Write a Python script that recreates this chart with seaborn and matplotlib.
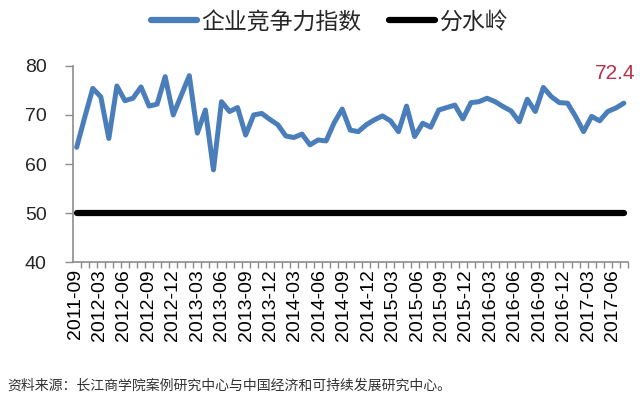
import numpy as np
import pandas as pd
import matplotlib
matplotlib.use("Agg")
import matplotlib.pyplot as plt
import seaborn as sns
from matplotlib.lines import Line2D
from matplotlib.ticker import FixedLocator

# monthly index values
index_values = [63.4, 69.5, 75.4, 73.7, 65.2, 75.9, 72.9, 73.4, 75.7, 71.8,
                72.2, 77.8, 70.0, 74.0, 78.0, 66.3, 71.0, 58.8, 72.7, 70.7,
                71.5, 65.9, 70.0, 70.3, 69.1, 68.0, 65.7, 65.4, 66.1, 63.9,
                64.9, 64.7, 68.4, 71.2, 66.9, 66.6, 68.0, 69.0, 69.8, 68.8,
                66.6, 71.8, 65.6, 68.3, 67.5, 71.0, 71.5, 72.0, 69.2, 72.5,
                72.7, 73.4, 72.7, 71.7, 70.8, 68.6, 73.2, 70.7, 75.6, 73.7,
                72.5, 72.4, 69.7, 66.6, 69.7, 68.8, 70.7, 71.4, 72.4]
threshold = 50
tick_labels = ["2011-09", "2012-03", "2012-06", "2012-09", "2012-12",
               "2013-03", "2013-06", "2013-09", "2013-12", "2014-03",
               "2014-06", "2014-09", "2014-12", "2015-03", "2015-06",
               "2015-09", "2015-12", "2016-03", "2016-06", "2016-09",
               "2016-12", "2017-03", "2017-06"]
series_name = "企业竞争力指数"
threshold_name = "分水岭"
last_label = "72.4"
source = "资料来源：长江商学院案例研究中心与中国经济和可持续发展研究中心。"

sns.set_theme(style="white")
plt.rcParams["font.family"] = ["Liberation Sans", "Noto Sans CJK SC", "DejaVu Sans"]

n = len(index_values)
df = pd.DataFrame({"idx": np.arange(n), "index": index_values,
                   "threshold": [threshold] * n})

fig = plt.figure(figsize=(6.4, 4.09), dpi=100)
ax = fig.add_axes([0.114, 0.359, 0.867, 0.48])

blue = "#4A7EBB"
sns.lineplot(data=df, x="idx", y="threshold", color="black", linewidth=4.5,
             solid_capstyle="round", ax=ax)
sns.lineplot(data=df, x="idx", y="index", color=blue, linewidth=3.6,
             solid_capstyle="round", solid_joinstyle="round", ax=ax)

ax.set_xlim(-0.46, n - 0.5)
ax.set_ylim(40, 80)
ax.set_yticks([40, 50, 60, 70, 80])
ax.set_xlabel("")
ax.set_ylabel("")

# labels spaced like the original, tick marks between every month
ax.set_xticks(np.linspace(-0.2, 66.6, len(tick_labels)))
ax.set_xticklabels(tick_labels, rotation=90, fontsize=14)
ax.xaxis.set_minor_locator(FixedLocator(np.arange(-0.5, n, 1.0)))
ax.tick_params(axis="x", which="major", length=0, pad=5, colors="black")
ax.tick_params(axis="x", which="minor", bottom=True, length=4, width=1,
               color="#8C8C8C")
ax.tick_params(axis="y", left=True, length=6, width=1, color="#8C8C8C",
               labelsize=14, pad=13)

for s in ["top", "right"]:
    ax.spines[s].set_visible(False)
for s in ["left", "bottom"]:
    ax.spines[s].set_color("#8C8C8C")
    ax.spines[s].set_linewidth(1.2)

ax.annotate(last_label, xy=(n - 1, index_values[-1]), xytext=(-6, 21),
            textcoords="offset points", ha="center", va="center",
            color="#B5324A", fontsize=15)

handles = [Line2D([], [], color=blue, linewidth=4.5, solid_capstyle="round"),
           Line2D([], [], color="black", linewidth=4.5, solid_capstyle="round")]
fig.legend(handles, [series_name, threshold_name], loc="upper center",
           bbox_to_anchor=(0.515, 1.025), ncol=2, frameon=False, fontsize=16.5,
           handlelength=2.0, handletextpad=0.2, columnspacing=1.2)

fig.text(0.012, 0.058, source, fontsize=10, color="#333333", va="center")

fig.savefig("out.png", dpi=100)
